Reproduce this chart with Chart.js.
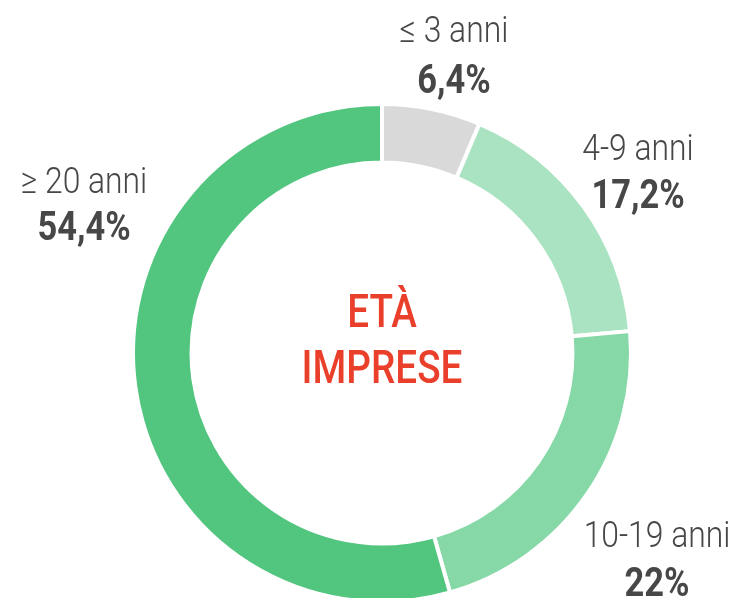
<!DOCTYPE html>
<html>
<head>
<meta charset="utf-8">
<script src="https://cdn.jsdelivr.net/npm/chart.js@4"></script>
<style>
  html, body { margin: 0; padding: 0; background: #fff; overflow: hidden; }
  #wrap { position: absolute; left: 0; top: 0; width: 733px; height: 640px; }
</style>
</head>
<body>
<div id="wrap"><canvas id="graficoEta" width="733" height="640"></canvas></div>
<script>
const categories = ['\u2264 3 anni', '4-9 anni', '10-19 anni', '\u2265 20 anni'];
const percentages = [6.4, 17.2, 22, 54.4];
const valueLabels = ['6,4%', '17,2%', '22%', '54,4%'];
const sliceColors = ['#d9d9d9', '#aae3c1', '#86d8a7', '#52c57f'];

// where each text pair sits (center x, baseline of category, baseline of value)
const labelSpots = [
    [454, 42, 93],
    [638, 160, 208],
    [657, 547, 596],
    [84, 193, 240]
];

function condensedText(ctx, text, x, y, font, color, squeeze) {
    ctx.save();
    ctx.font = font;
    ctx.fillStyle = color;
    ctx.textAlign = 'center';
    ctx.textBaseline = 'alphabetic';
    ctx.translate(x, y);
    ctx.scale(squeeze, 1);
    ctx.fillText(text, 0, 0);
    ctx.restore();
}

const etichette = {
    id: 'etichette',
    afterDraw(chart) {
        const ctx = chart.ctx;
        const meta = chart.getDatasetMeta(0);
        const cx = meta.data[0].x;
        const cy = meta.data[0].y;
        categories.forEach((cat, i) => {
            const [x, y1, y2] = labelSpots[i];
            condensedText(ctx, cat, x, y1, '300 37px Roboto', '#474747', 0.86);
            condensedText(ctx, valueLabels[i], x, y2, 'bold 41px Roboto', '#474747', 0.84);
        });
        condensedText(ctx, 'ET\u00c0', cx, cy - 26, '500 46px Roboto', '#ea3f2b', 0.84);
        condensedText(ctx, 'IMPRESE', cx, cy + 30, '500 46px Roboto', '#ea3f2b', 0.84);
    }
};

const ctx = document.getElementById('graficoEta').getContext('2d');
new Chart(ctx, {
    type: 'doughnut',
    data: {
        labels: categories,
        datasets: [{
            data: percentages,
            backgroundColor: sliceColors,
            borderColor: '#ffffff',
            borderWidth: 4
        }]
    },
    options: {
        responsive: false,
        animation: false,
        cutout: '76.5%',
        layout: {
            padding: { left: 131, right: 100, top: 102, bottom: 36 }
        },
        plugins: {
            legend: { display: false },
            tooltip: { enabled: false }
        }
    },
    plugins: [etichette]
});
</script>
</body>
</html>
